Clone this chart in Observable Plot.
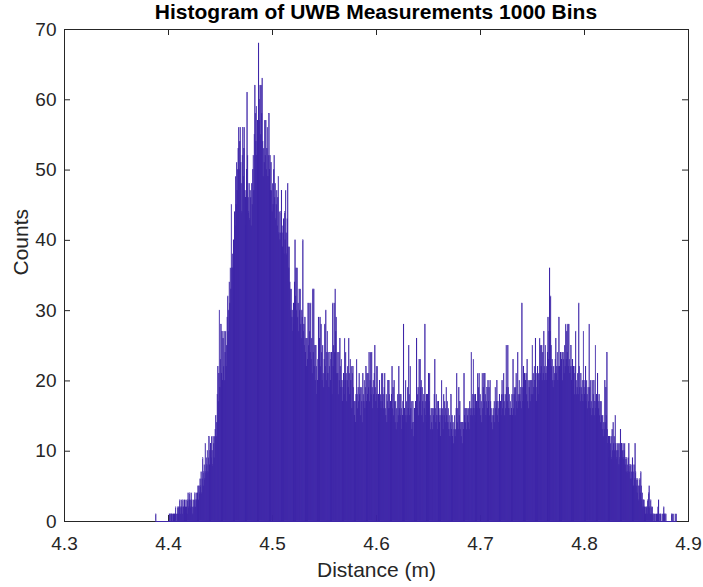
<!DOCTYPE html>
<html>
<head>
<meta charset="utf-8">
<script src="https://cdn.jsdelivr.net/npm/d3@7"></script>
<script src="https://cdn.jsdelivr.net/npm/@observablehq/plot@0.6"></script>
<style>
  body { margin: 0; background: #fff; }
  #wrap { position: relative; width: 703px; height: 587px; background: #fff; }
  #title {
    position: absolute; left: 64px; top: 0; width: 624px; height: 24px;
    line-height: 24px; text-align: center; color: #000;
    font: bold 21px "Liberation Sans", Arial, Helvetica, sans-serif;
  }
  #chart { position: absolute; left: 0; top: 24px; }
</style>
</head>
<body>
<div id="wrap">
  <div id="title">Histogram of UWB Measurements 1000 Bins</div>
  <div id="chart"></div>
</div>
<script>
// Histogram range (m): edges of the first and last bin
const binMin = 4.388;
const binMax = 4.889;

// Counts per bin, 100 bins per array, in order of distance
const bins000to099 = [
  1,0,0,0,0,0,0,0,0,0, 0,0,0,0,0,0,0,0,0,0, 0,0,0,0,0,0,1,1,0,1, 1,1,0,1,1,0,1,1,2,1, 0,1,2,1,2,2,3,1,2,3,
  2,1,3,2,2,3,1,2,3,2, 1,3,4,2,3,4,3,2,4,3, 2,1,3,2,3,4,2,3,4,3, 4,5,3,5,4,6,5,7,4,6, 9,5,7,8,6,11,7,9,8
];
const bins100to199 = [
  10,7,9,12,8,10,11,9,12,10, 8,12,11,9,12,13,15,12,14,18, 22,17,21,30,19,23,28,21,27,20, 26,22,27,20,24,27,22,25,29,32, 27,30,34,31,36,33,45,36,38,36,
  40,38,44,42,49,45,51,47,50,53, 56,50,54,56,51,48,44,52,56,49, 53,56,47,46,42,50,61,52,46,44, 48,43,47,46,42,48,45,50,52,47, 55,62,58,54,59,52,57,55,68,60
];
const bins200to299 = [
  57,62,55,62,58,63,54,49,53,51, 57,52,57,50,53,56,49,52,58,50, 52,47,51,47,44,48,45,50,52,46, 48,43,45,47,42,46,49,41,44,40, 41,44,47,41,39,42,43,38,44,40,
  47,41,38,43,48,39,36,39,34,33, 30,33,29,30,27,31,28,34,40,32, 36,30,36,29,31,27,33,30,33,28, 26,30,29,40,27,28,25,29,24,26, 22,26,23,31,25,31,27,24,31,23
];
const bins300to399 = [
  26,21,33,24,33,22,25,20,25,22, 18,20,23,29,21,26,29,22,28,24, 20,25,21,19,23,28,22,30,20,24, 27,21,24,19,22,24,20,23,24,18, 31,22,25,31,24,33,27,29,21,24,
  21,18,24,20,26,22,19,23,20,17, 19,21,18,26,20,24,21,17,20,22, 19,26,21,18,23,20,22,16,21,22, 19,17,15,17,14,18,23,18,16,19, 17,21,18,19,15,19,17,14,21,18
];
const bins400to499 = [
  17,20,16,19,22,17,21,18,21,19, 24,17,20,24,18,24,19,16,20,18, 21,25,19,17,22,18,22,16,18,14, 20,17,18,16,21,17,21,18,16,19, 21,16,15,18,14,17,20,16,20,18,
  16,17,14,18,22,16,19,15,20,17, 14,17,13,16,14,18,15,22,16,18, 15,18,16,13,15,17,28,14,16,15, 20,14,17,15,19,16,25,18,15,22, 16,17,13,14,17,12,14,16,13,17
];
const bins500to599 = [
  15,26,16,18,19,15,23,17,23,19, 20,15,19,17,14,18,16,28,17,15, 18,14,18,16,21,17,21,15,13,16, 14,16,13,16,15,18,23,16,14,18, 15,17,13,17,16,14,15,12,16,20,
  15,16,13,18,15,17,14,16,19,15, 17,14,16,13,15,12,14,18,13,15, 12,14,11,13,15,12,13,16,21,14, 16,13,19,15,17,13,14,12,14,11, 14,13,21,15,16,14,16,13,16,15
];
const bins600to699 = [
  14,16,13,17,16,15,24,16,15,18, 23,16,18,15,18,14,17,16,21,17, 19,21,16,18,15,17,14,21,16,19, 21,17,21,18,15,17,19,16,20,17, 19,15,20,17,16,14,15,13,16,15,
  17,14,19,16,17,20,15,17,16,14, 18,16,17,15,18,20,16,18,21,17, 15,18,16,25,19,17,25,19,16,18, 15,17,15,16,18,15,23,16,18,19, 15,19,21,17,16,24,18,17,20,18
];
const bins700to799 = [
  17,19,16,31,19,17,22,18,21,17, 20,21,18,23,17,20,16,19,20,17, 20,18,20,25,18,21,19,22,20,26, 21,17,19,22,18,21,20,26,21,25, 22,25,20,24,21,27,22,20,25,21,
  22,20,24,29,23,27,36,27,32,25, 22,23,20,19,22,20,21,23,26,21, 22,24,20,22,29,22,20,24,21,23, 24,20,24,23,21,25,22,28,23,27, 24,28,22,28,23,21,22,25,20,22
];
const bins800to899 = [
  23,19,22,21,18,22,27,20,18,19, 21,18,31,22,19,17,21,19,18,20, 17,27,20,18,19,22,17,20,18,16, 19,17,28,19,16,20,17,15,20,16, 18,20,15,17,25,16,18,15,21,17,
  16,18,15,17,14,17,15,13,15,12, 14,13,20,14,19,15,24,13,11,12, 9,12,10,11,12,9,13,10,14,11, 12,10,15,11,10,9,11,10,11,8, 11,9,13,10,11,9,10,11,9,10
];
const bins900to999 = [
  11,8,9,7,9,8,7,9,11,7, 8,6,8,7,6,9,7,5,8,6, 11,7,5,6,4,6,5,3,5,6, 4,7,5,3,4,2,3,3,2,2, 1,2,2,1,3,2,4,5,2,1,
  3,1,2,2,1,0,1,1,0,1, 0,1,0,1,2,3,1,0,1,1, 0,0,1,0,1,2,1,1,0,1, 0,0,0,0,0,0,0,0,0,0, 1,1,0,1,0,0,0,1,0,1
];

// Axis ticks
const xTicks = [4.3, 4.4, 4.5, 4.6, 4.7, 4.8, 4.9];
const yTicks = [0, 10, 20, 30, 40, 50, 60, 70];

const counts = [].concat(
  bins000to099, bins100to199, bins200to299, bins300to399, bins400to499,
  bins500to599, bins600to699, bins700to799, bins800to899, bins900to999
);
const binWidth = (binMax - binMin) / counts.length;
const bins = counts.map((c, i) => ({
  x1: binMin + i * binWidth,
  x2: binMin + (i + 1) * binWidth,
  count: c
}));

const barColor = "#3e26a8";
const axisColor = "#262626";
const W = 703, H = 563;
const mT = 5, mR = 15, mB = 66, mL = 64;
const innerW = W - mL - mR, innerH = H - mT - mB;
const tickLen = 6;

const chart = Plot.plot({
  width: W,
  height: H,
  marginTop: mT,
  marginRight: mR,
  marginBottom: mB,
  marginLeft: mL,
  x: {domain: [4.3, 4.9]},
  y: {domain: [0, 70]},
  style: {
    fontFamily: '"Liberation Sans", Arial, Helvetica, sans-serif',
    fontSize: "19px",
    color: axisColor,
    background: "#fff",
    overflow: "visible"
  },
  marks: [
    Plot.frame({stroke: axisColor}),
    // inward tick marks on all four sides
    Plot.ruleX(xTicks, {stroke: axisColor, insetTop: innerH - tickLen}),
    Plot.ruleX(xTicks, {stroke: axisColor, insetBottom: innerH - tickLen}),
    Plot.ruleY(yTicks, {stroke: axisColor, insetRight: innerW - tickLen}),
    Plot.ruleY(yTicks, {stroke: axisColor, insetLeft: innerW - tickLen}),
    // histogram bars
    Plot.rectY(bins, {x1: "x1", x2: "x2", y: "count", fill: barColor, stroke: barColor, strokeWidth: 0.55}),
    Plot.ruleY([0], {x1: binMin, x2: binMax, stroke: barColor}),
    Plot.axisX(xTicks, {tickSize: 0, tickPadding: 15, tickFormat: d => d.toFixed(1), label: null, fontSize: 19}),
    Plot.axisY(yTicks, {tickSize: 0, tickPadding: 8, tickFormat: d => String(d), label: null, fontSize: 19}),
    Plot.text(["Distance (m)"], {text: d => d, frameAnchor: "bottom", dy: 55, fontSize: 21, fill: axisColor}),
    Plot.text(["Counts"], {text: d => d, frameAnchor: "left", rotate: -90, dx: -43, fontSize: 21, fill: axisColor})
  ]
});
document.getElementById("chart").appendChild(chart);
</script>
</body>
</html>
